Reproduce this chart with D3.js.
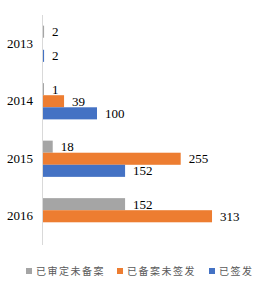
<!DOCTYPE html>
<html>
<head>
<meta charset="utf-8">
<script src="https://cdn.jsdelivr.net/npm/d3@7"></script>
<style>
  body { margin: 0; background: #fff; }
</style>
</head>
<body>
<div id="chart"></div>
<script>
// chart data
var years = ['2013', '2014', '2015', '2016']
var seriesNames = ['已审定未备案', '已备案未签发', '已签发']
var approved = [2, 1, 18, 152]
var filed = [0, 39, 255, 313]
var issued = [2, 100, 152, 0]
var colors = ['#A5A5A5', '#ED7D31', '#4472C4']

var width = 274,
    height = 289
var margin = { top: 15, left: 43, bottom: 44, right: 20 }

var svg = d3.select('#chart')
    .append('svg')
    .attr('width', width)
    .attr('height', height)

var y = d3.scaleBand()
    .domain(years)
    .range([margin.top, height - margin.bottom])
    .paddingInner(0.37)
    .paddingOuter(0.185)

var ySub = d3.scaleBand()
    .domain(seriesNames)
    .range([0, y.bandwidth()])

var x = d3.scaleLinear()
    .domain([0, 100])
    .range([margin.left, margin.left + 54])

var series = [approved, filed, issued]

// one row per bar
var rows = []
years.forEach(function (yr, i) {
    seriesNames.forEach(function (s, j) {
        if (series[j][i] > 0) rows.push({ year: yr, name: s, value: series[j][i], color: colors[j] })
    })
})

svg.selectAll('rect.bar')
    .data(rows)
    .enter()
    .append('rect')
    .attr('class', 'bar')
    .attr('x', x(0))
    .attr('y', function (d) { return y(d.year) + ySub(d.name) })
    .attr('width', function (d) { return Math.max(1, x(d.value) - x(0)) })
    .attr('height', ySub.bandwidth())
    .attr('fill', function (d) { return d.color })

svg.selectAll('text.val')
    .data(rows)
    .enter()
    .append('text')
    .attr('class', 'val')
    .attr('x', function (d) { return Math.max(x(d.value), x(0) + 1) + 8 })
    .attr('y', function (d) { return y(d.year) + ySub(d.name) + ySub.bandwidth() / 2 })
    .attr('dy', '0.35em')
    .style('font-family', '"Liberation Serif", "Times New Roman", serif')
    .style('font-size', '13px')
    .style('fill', '#000')
    .text(function (d) { return d.value })

// category axis
var yAxis = d3.axisLeft(y).tickSize(0).tickPadding(10)
var gAxis = svg.append('g')
    .attr('transform', 'translate(' + x(0) + ',0)')
    .call(yAxis)
gAxis.select('.domain').remove()
gAxis.selectAll('text')
    .style('font-family', '"Liberation Serif", "Times New Roman", serif')
    .style('font-size', '13px')
    .style('fill', '#000')

svg.append('line')
    .attr('x1', x(0) - 0.5).attr('x2', x(0) - 0.5)
    .attr('y1', margin.top).attr('y2', height - margin.bottom)
    .attr('stroke', '#D9D9D9')
    .attr('stroke-width', 1)

// legend
var legendX = [26, 117, 209]
var legend = svg.selectAll('.legend')
    .data(seriesNames)
    .enter()
    .append('g')
    .attr('class', 'legend')
    .attr('transform', function (d, i) { return 'translate(' + legendX[i] + ',268)' })

legend.append('rect')
    .attr('width', 6)
    .attr('height', 6)
    .attr('fill', function (d, i) { return colors[i] })

legend.append('text')
    .attr('x', 10)
    .attr('y', 3)
    .attr('dy', '0.38em')
    .style('font-family', '"Noto Sans CJK SC", sans-serif')
    .style('font-size', '10px')
    .style('letter-spacing', '1.5px')
    .style('fill', '#595959')
    .text(function (d) { return d })
</script>
</body>
</html>
